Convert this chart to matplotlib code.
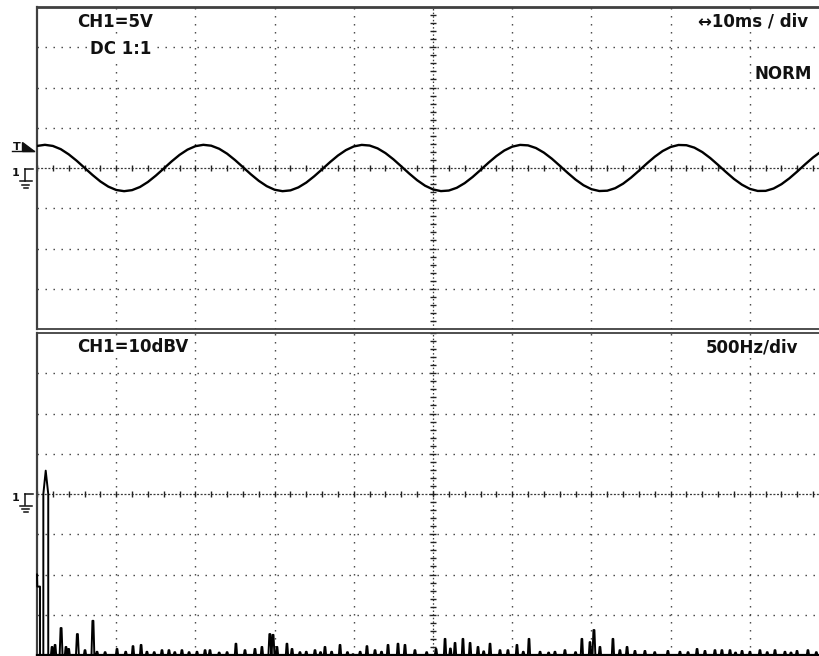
import matplotlib
matplotlib.use('Agg')
import matplotlib.pyplot as plt
from matplotlib.lines import Line2D
from matplotlib.patches import Polygon

# ---------------- data ----------------
# time-domain trace (ms, V) read from the upper screen, 5 V/div, 10 ms/div
time_ms = list(range(0, 101))
volts = [2.74, 2.88, 2.74, 2.34, 1.70, 0.91, 0.02, -0.86, -1.67, -2.31,
         -2.73, -2.88, -2.75, -2.36, -1.74, -0.95, -0.07, 0.82, 1.63, 2.28,
         2.71, 2.88, 2.77, 2.39, 1.78, 0.99, 0.11, -0.78, -1.59, -2.25,
         -2.70, -2.88, -2.78, -2.41, -1.81, -1.03, -0.16, 0.73, 1.55, 2.22,
         2.68, 2.87, 2.79, 2.44, 1.85, 1.08, 0.20, -0.69, -1.52, -2.20,
         -2.66, -2.87, -2.80, -2.46, -1.88, -1.12, -0.25, 0.65, 1.48, 2.17,
         2.65, 2.87, 2.81, 2.48, 1.91, 1.16, 0.29, -0.60, -1.44, -2.14,
         -2.63, -2.86, -2.82, -2.51, -1.95, -1.20, -0.34, 0.56, 1.40, 2.11,
         2.61, 2.86, 2.83, 2.53, 1.98, 1.24, 0.38, -0.51, -1.36, -2.07,
         -2.59, -2.85, -2.84, -2.55, -2.01, -1.28, -0.43, 0.47, 1.32, 2.04,
         2.57]

# spectrum (Hz, dBV), 500 Hz/div, 10 dBV/div
lead_hz = [0, 2, 19, 19, 40, 40, 55, 71, 71]
lead_dbv = [-20, -23, -23, -40, -40, 0, 5.8, 0, -40]
peak_hz = [95, 114, 152, 183, 200, 255, 303, 353, 379, 430, 505, 560, 606, 657,
           694, 740, 789, 833, 870, 915, 960, 1010, 1061, 1092, 1150, 1200, 1256,
           1313, 1376, 1420, 1470, 1490, 1515, 1578, 1610, 1660, 1700, 1755, 1790,
           1818, 1860, 1913, 1960, 1995, 2040, 2083, 2134, 2175, 2216, 2279, 2323,
           2386, 2460, 2519, 2576, 2610, 2639, 2689, 2734, 2784, 2820, 2860, 2923,
           2973, 3030, 3070, 3106, 3176, 3230, 3270, 3333, 3400, 3440, 3491, 3516,
           3554, 3636, 3680, 3725, 3775, 3838, 3900, 3983, 4059, 4110, 4167, 4217,
           4280, 4324, 4375, 4410, 4451, 4501, 4564, 4610, 4659, 4722, 4760, 4798,
           4867, 4920]
peak_dbv = [-38, -37.5, -33.3, -38, -38.5, -34.8, -38.8, -31.5, -39.2, -39.3,
            -38.5, -39.2, -37.8, -37.5, -39.2, -39.3, -38.8, -38.8, -39.3, -38.8,
            -39.3, -39.2, -38.8, -38.8, -39.4, -39.3, -37.2, -38.8, -38.5, -38,
            -34.8, -35, -38, -37.2, -38.5, -39.3, -39.2, -38.8, -39.3, -38,
            -39.2, -37.5, -39.3, -39.8, -39.2, -37.8, -38.8, -39.2, -37.5, -37.2,
            -37.5, -38.8, -39.3, -38.5, -36, -38.4, -37, -36, -37, -38,
            -39.1, -37.2, -38.8, -38.8, -37.5, -39.2, -36, -39.2, -39.4, -39.2,
            -38.8, -39.3, -36, -36.8, -33.8, -38, -36, -38.8, -38, -39,
            -39, -39.3, -39, -39.2, -39.3, -38.5, -39, -38.8, -38.8, -38.8,
            -39.4, -39, -39.2, -38.8, -39.3, -38.8, -39.2, -39.4, -39, -38.8,
            -39.3]

top_labels = ['CH1=5V', 'DC 1:1', '\u219410ms / div', 'NORM']
bottom_labels = ['CH1=10dBV', '500Hz/div']

# ---------------- figure ----------------
W, H = 819, 656
fig = plt.figure(figsize=(W / 100, H / 100), dpi=100)
fig.patch.set_facecolor('white')


def fx(px):
    return px / W


def fy(py):
    return 1 - py / H


ax1 = fig.add_axes([fx(37), fy(329), 792 / W, 322 / H])
ax2 = fig.add_axes([fx(37), fy(655), 792 / W, 322 / H])

GRID = '#3a3a3a'


def style_screen(ax, xmax, ymin, ymax, xdiv, ydiv):
    ax.set_xlim(0, xmax)
    ax.set_ylim(ymin, ymax)
    ax.set_xticks([])
    ax.set_yticks([])
    for s in ax.spines.values():
        s.set_color('#404040')
    ax.spines['left'].set_linewidth(1.6)
    xc = xmax / 2
    yc = (ymin + ymax) / 2
    for i in range(1, 10):
        x = i * xdiv
        if abs(x - xc) < 1e-9:
            continue
        ax.axvline(x, color=GRID, lw=1.0, dashes=(1.0, 4.76), zorder=1)
    for j in range(1, 8):
        y = ymin + j * ydiv
        if abs(y - yc) < 1e-9:
            continue
        ax.axhline(y, color=GRID, lw=1.0, dashes=(1.0, 4.76), zorder=1)
    ax.axvline(xc, color=GRID, lw=0.9, dashes=(1.2, 1.7), zorder=1)
    ax.axhline(yc, color=GRID, lw=0.9, dashes=(1.6, 1.3), zorder=1)
    nx = 50
    ax.plot([k * xdiv / 5 for k in range(nx + 1)], [yc] * (nx + 1), ls='none',
            marker='|', ms=4.2, mew=1.0, color='#222', zorder=2)
    ny = 40
    ax.plot([xc] * (ny + 1), [ymin + k * ydiv / 5 for k in range(ny + 1)], ls='none',
            marker='_', ms=4.2, mew=1.0, color='#222', zorder=2)


style_screen(ax1, 100, -20, 20, 10, 5)
style_screen(ax2, 5000, -40, 40, 500, 10)
ax1.spines['top'].set_linewidth(2.0)
ax1.spines['bottom'].set_linewidth(1.3)
ax2.spines['top'].set_linewidth(1.3)
ax2.spines['bottom'].set_linewidth(1.6)

# time trace
ax1.plot(time_ms, volts, color='black', lw=1.7, zorder=3)

# spectrum trace (flat-topped bumps)
xs = list(lead_hz)
ys = list(lead_dbv)
for f, L in zip(peak_hz, peak_dbv):
    hw = 9 if L > -36 else 7
    xs += [f - hw, f - hw / 3, f + hw / 3, f + hw]
    ys += [-40, L, L, -40]
xs.append(5000)
ys.append(-40)
ax2.plot(xs, ys, color='black', lw=1.4, zorder=3, clip_on=False)
ax2.axhline(-40, color='black', lw=2.2, zorder=3, clip_on=False)

# ---------------- texts ----------------
tkw = dict(family='DejaVu Sans', weight='bold', fontsize=12, color='#111',
           va='baseline', zorder=5,
           bbox=dict(facecolor='white', edgecolor='none', pad=0.6))
fig.text(fx(77), fy(27), top_labels[0], ha='left', **tkw)
fig.text(fx(90), fy(54), top_labels[1], ha='left', **tkw)
fig.text(fx(808), fy(27), top_labels[2], ha='right', **tkw)
fig.text(fx(812), fy(79), top_labels[3], ha='right', **tkw)
fig.text(fx(77), fy(352), bottom_labels[0], ha='left', **tkw)
fig.text(fx(798), fy(353), bottom_labels[1], ha='right', **tkw)


# ---------------- left-side markers ----------------
def pline(x0, y0, x1, y1, lw=1.2):
    fig.add_artist(Line2D([fx(x0), fx(x1)], [fy(y0), fy(y1)], color='#111',
                          lw=lw, transform=fig.transFigure))


fig.text(fx(12.5), fy(150), 'T', family='DejaVu Sans', weight='bold',
         fontsize=8, color='#111', va='baseline', ha='left')
pline(12, 151, 34, 151, lw=1.0)
fig.add_artist(Polygon([[fx(22), fy(141.5)], [fx(22), fy(151)], [fx(34), fy(151)]],
                       closed=True, color='#111', transform=fig.transFigure))


def ground(yref):
    fig.text(fx(12), fy(yref + 7), '1', family='DejaVu Sans', weight='bold',
             fontsize=8, color='#111', va='baseline', ha='left')
    pline(25, yref, 33, yref, lw=1.1)
    pline(25, yref, 25, yref + 11, lw=1.1)
    pline(19.5, yref + 12, 31.5, yref + 12, lw=1.1)
    pline(21.5, yref + 15, 29.5, yref + 15, lw=1.1)
    pline(23.5, yref + 18, 27.5, yref + 18, lw=1.1)


ground(169.5)
ground(494)

fig.savefig('out.png', dpi=100)
